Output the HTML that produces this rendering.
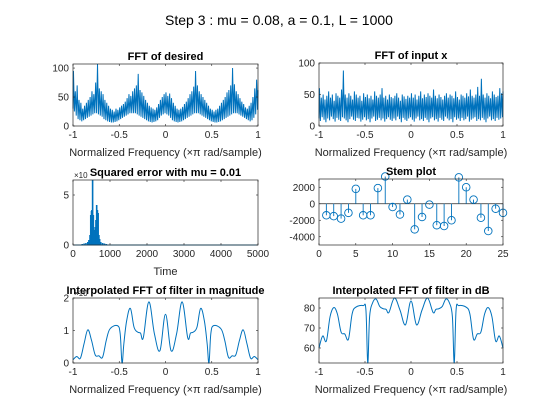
<!DOCTYPE html>
<html><head><meta charset="utf-8">
<style>
html,body{margin:0;padding:0;background:#fff;}
svg{display:block;font-family:"Liberation Sans",sans-serif;}
.tk{font-size:10px;fill:#262626;}
.tt{font-size:11px;font-weight:bold;fill:#000;}
.xl{font-size:11px;fill:#262626;}
</style></head>
<body>
<svg id="fig" width="560" height="420" viewBox="0 0 560 420" xmlns="http://www.w3.org/2000/svg">
<rect width="560" height="420" fill="#fff"/>
<text x="279" y="25" text-anchor="middle" font-size="14" fill="#000">Step 3 : mu = 0.08, a = 0.1, L = 1000</text>
</svg>
<script>
const desiredHi=[95,60,70,45,40,30,35,40,45,50,60,55,75,107,65,60,55,45,40,35,30,28,25,30,28,32,35,38,42,48,55,52,60,65,70,90,62,58,52,45,40,35,32,30,28,32,38,45,50,55,58,52,56,48,40,35,30,28,30,33,38,42,48,55,60,68,95,70,60,55,50,45,40,35,30,28,25,28,30,35,40,45,50,58,62,70,100,72,60,55,48,42,38,32,30,35,40,50,65,80,62];
const desiredLo=[30,25,18,12,10,8,10,12,14,16,18,20,22,22,20,18,16,12,10,8,7,6,6,7,8,10,12,14,16,18,20,22,22,22,22,20,18,16,14,12,10,8,7,6,7,8,10,14,18,20,22,20,18,14,10,8,7,6,7,8,10,12,14,16,18,20,22,22,22,20,18,16,14,12,10,8,7,6,6,7,8,10,12,14,16,18,20,22,22,22,20,18,16,14,12,10,8,10,14,20,28];
const inputHi=[60,45,50,42,48,55,45,50,40,52,48,45,58,88,50,45,52,48,42,55,50,45,48,40,52,46,50,44,48,42,55,48,45,50,60,45,48,42,50,46,44,48,52,45,40,50,47,43,48,45,52,45,50,42,48,55,44,50,46,52,48,45,58,48,44,50,46,42,48,52,45,50,48,44,55,46,42,50,48,45,52,47,58,48,45,50,62,48,75,50,45,52,48,44,55,50,46,48,60,52,55];
const inputLo=[12,8,14,10,6,12,9,15,11,7,13,10,8,14,12,9,6,11,15,10,8,13,12,7,10,14,9,11,6,12,15,8,10,13,9,12,7,11,14,10,8,12,9,15,11,6,13,10,8,12,14,10,7,12,15,9,11,8,13,10,6,12,14,9,11,7,13,10,8,15,12,9,11,6,14,10,12,8,13,9,11,15,7,10,12,14,8,11,9,13,10,6,12,15,9,11,8,13,10,12,14];
const errT=[250,300,350,400,430,460,480,500,510,520,530,540,550,560,580,600,620,640,650,660,680,700,720,750,800,850,900,950,1000];
const errV=[0.1,0.15,0.2,0.3,0.5,1.0,3.0,3.4,3.5,2.0,6.5,2.5,3.0,1.5,1.2,1.8,2.5,4.0,1.7,3.5,3.2,1.0,0.6,0.3,0.2,0.15,0.1,0.05,0.02];
const stemN=[1,2,3,4,5,6,7,8,9,10,11,12,13,14,15,16,17,18,19,20,21,22,23,24,25];
const stemV=[-1400,-1500,-1800,-1100,1800,-1400,-1400,1900,3300,-400,-1300,500,-3100,-1600,-100,-2600,-2700,-2000,3200,2000,500,-1700,-3300,-600,-1100];
const magX=[-1,-0.96,-0.92,-0.88,-0.84,-0.8,-0.76,-0.72,-0.68,-0.64,-0.6,-0.52,-0.49,-0.47,-0.45,-0.42,-0.38,-0.34,-0.3,-0.27,-0.24,-0.18,-0.12,-0.06,0,0.06,0.12,0.18,0.24,0.27,0.3,0.34,0.38,0.42,0.45,0.47,0.49,0.52,0.6,0.64,0.68,0.72,0.76,0.8,0.84,0.88,0.92,0.96,1];
const magY=[0.1,0.2,0.15,0.6,1.02,0.7,0.25,0.22,0.18,0.7,1.05,1.15,0.9,0,0.6,1.3,1.68,1.1,0.95,0.92,0.78,1.88,0.9,0.38,1.5,0.38,0.9,1.88,0.78,0.92,0.95,1.1,1.68,1.3,0.6,0,0.9,1.15,1.05,0.7,0.18,0.22,0.25,0.7,1.02,0.6,0.15,0.2,0.1];
const dbY=[60,66,63.5,75.6,80.2,77,68,67,64.4,77,80.4,81.2,79,52.5,75.6,82.3,84.5,80.8,79.6,79.3,77.8,85,79,71.6,83.5,71.6,79,85,77.8,79.3,79.6,80.8,84.5,82.3,75.6,52.5,79,81.2,80.4,77,64.4,67,68,77,80.2,75.6,63.5,66,60];
const freqTicks=[-1,-0.5,0,0.5,1];
const freqLabels=["-1","-0.5","0","0.5","1"];

const NS="http://www.w3.org/2000/svg";
const fig=document.getElementById('fig');
const BLUE="#0072BD";
function mk(tag,attrs,parent){const e=document.createElementNS(NS,tag);for(const k in attrs)e.setAttribute(k,attrs[k]);(parent||fig).appendChild(e);return e;}

function axes(name,x0,x1,y0,y1,xmin,xmax,ymin,ymax,xt,xtl,yt,ytl,title,xlabel){
  const g=mk('g',{});
  
  
  const sx=v=>x0+(v-xmin)/(xmax-xmin)*(x1-x0);
  const sy=v=>y1-(v-ymin)/(ymax-ymin)*(y1-y0);
  mk('rect',{x:x0,y:y0,width:x1-x0,height:y1-y0,fill:'#fff'},g);
  const data=mk('g',{},g);
  const over=mk('g',{},g);
  xt.forEach((v,i)=>{const x=sx(v);
    mk('line',{x1:x,y1:y1,x2:x,y2:y1-2,stroke:'#262626','stroke-width':0.6},over);
    mk('line',{x1:x,y1:y0,x2:x,y2:y0+2,stroke:'#262626','stroke-width':0.6},over);
    const t=mk('text',{x:x,y:y1+12,'text-anchor':'middle',class:'tk'},over);t.textContent=xtl[i];
    
    });
  yt.forEach((v,i)=>{const y=sy(v);
    mk('line',{x1:x0,y1:y,x2:x0+2,y2:y,stroke:'#262626','stroke-width':0.6},over);
    mk('line',{x1:x1,y1:y,x2:x1-2,y2:y,stroke:'#262626','stroke-width':0.6},over);
    const t=mk('text',{x:x0-4,y:y+3.5,'text-anchor':'end',class:'tk'},over);t.textContent=ytl[i];
    
    });
  mk('rect',{x:x0,y:y0,width:x1-x0,height:y1-y0,fill:'none',stroke:'#262626','stroke-width':0.7},over);
  const tt=mk('text',{x:(x0+x1)/2,y:y0-4,'text-anchor':'middle',class:'tt'},over);tt.textContent=title;
  
  
  if(xlabel){const xl=mk('text',{x:(x0+x1)/2,y:y1+30,'text-anchor':'middle',class:'xl'},over);xl.textContent=xlabel;
    
    }
  return {sx,sy,data,over};
}
function zigzag(ax,hi,lo,name){
  const n=hi.length,step=2/(n-1),pts=[];
  for(let i=0;i<n;i++){
    const x=-1+2*i/(n-1);
    const xa=Math.max(-1,x-step/4),xb=Math.min(1,x+step/4);
    pts.push(ax.sx(xa).toFixed(2)+','+ax.sy(lo[i]).toFixed(2));
    pts.push(ax.sx(xb).toFixed(2)+','+ax.sy(hi[i]).toFixed(2));
  }
  const p=mk('polyline',{points:pts.join(' '),fill:'none',stroke:BLUE,'stroke-width':1,'stroke-linejoin':'miter'},ax.data);
  
  
}
function smooth(ax,xs,ys,name){
  const P=xs.map((x,i)=>[ax.sx(x),ax.sy(ys[i])]);
  let d='M'+P[0][0].toFixed(2)+','+P[0][1].toFixed(2);
  for(let i=0;i<P.length-1;i++){
    const p0=P[Math.max(0,i-1)],p1=P[i],p2=P[i+1],p3=P[Math.min(P.length-1,i+2)];
    const t=0.18;
    const c1=[p1[0]+(p2[0]-p0[0])*t,p1[1]+(p2[1]-p0[1])*t];
    const c2=[p2[0]-(p3[0]-p1[0])*t,p2[1]-(p3[1]-p1[1])*t];
    d+=' C'+c1.map(v=>v.toFixed(2)).join(',')+' '+c2.map(v=>v.toFixed(2)).join(',')+' '+p2.map(v=>v.toFixed(2)).join(',');
  }
  const p=mk('path',{d:d,fill:'none',stroke:BLUE,'stroke-width':1},ax.data);
  
  
}
const FL="Normalized Frequency (\u00D7\u03C0 rad/sample)";

const a1=axes('fft-desired-axes',73,258,64,126,-1,1,0,107,freqTicks,freqLabels,[0,50,100],["0","50","100"],"FFT of desired",FL);
zigzag(a1,desiredHi,desiredLo,'desired-fft-line');
const a2=axes('fft-input-axes',319,503,63,126,-1,1,0,100,freqTicks,freqLabels,[0,50,100],["0","50","100"],"FFT of input x",FL);
zigzag(a2,inputHi,inputLo,'input-fft-line');

const a3=axes('squared-error-axes',73,258,180,245,0,5000,0,6.5,[0,1000,2000,3000,4000,5000],["0","1000","2000","3000","4000","5000"],[0,5],["0","5"],"Squared error with mu = 0.01","Time");
{const b=mk('line',{x1:a3.sx(0),y1:a3.sy(0),x2:a3.sx(5000),y2:a3.sy(0),stroke:BLUE,'stroke-width':1},a3.data);
 
 
 errT.forEach((t,i)=>{const l=mk('line',{x1:a3.sx(t),y1:a3.sy(0),x2:a3.sx(t),y2:a3.sy(errV[i]),stroke:BLUE,'stroke-width':1.6},a3.data);
  
  });
 const e=mk('text',{x:74,y:178,'font-size':'8','fill':'#262626'},a3.over);e.textContent='\u00D710';
 
 }

const a4=axes('stem-axes',319,503,179,245,0,25,-5000,3000,[0,5,10,15,20,25],["0","5","10","15","20","25"],[-4000,-2000,0,2000],["-4000","-2000","0","2000"],"Stem plot","");
{const b=mk('line',{x1:a4.sx(0),y1:a4.sy(0),x2:a4.sx(25),y2:a4.sy(0),stroke:'#262626','stroke-width':0.8},a4.data);
 
 
 stemN.forEach((n,i)=>{
  const l=mk('line',{x1:a4.sx(n),y1:a4.sy(0),x2:a4.sx(n),y2:a4.sy(stemV[i]),stroke:BLUE,'stroke-width':0.9},a4.data);
  
  
  const c=mk('circle',{cx:a4.sx(n),cy:a4.sy(stemV[i]),r:3.8,fill:'none',stroke:BLUE,'stroke-width':0.9},a4.data);
  
  });}

const a5=axes('magnitude-axes',73,258,298,363,-1,1,0,2,freqTicks,freqLabels,[0,1,2],["0","1","2"],"Interpolated FFT of filter in magnitude",FL);
smooth(a5,magX,magY,'magnitude-line');
{const e=mk('text',{x:74,y:296,'font-size':'8','fill':'#262626'},a5.over);e.textContent='\u00D710';
 
 }

const a6=axes('db-axes',319,503,298,363,-1,1,52.5,85,freqTicks,freqLabels,[60,70,80],["60","70","80"],"Interpolated FFT of filter in dB",FL);
smooth(a6,magX,dbY,'db-line');
</script>
</body></html>
